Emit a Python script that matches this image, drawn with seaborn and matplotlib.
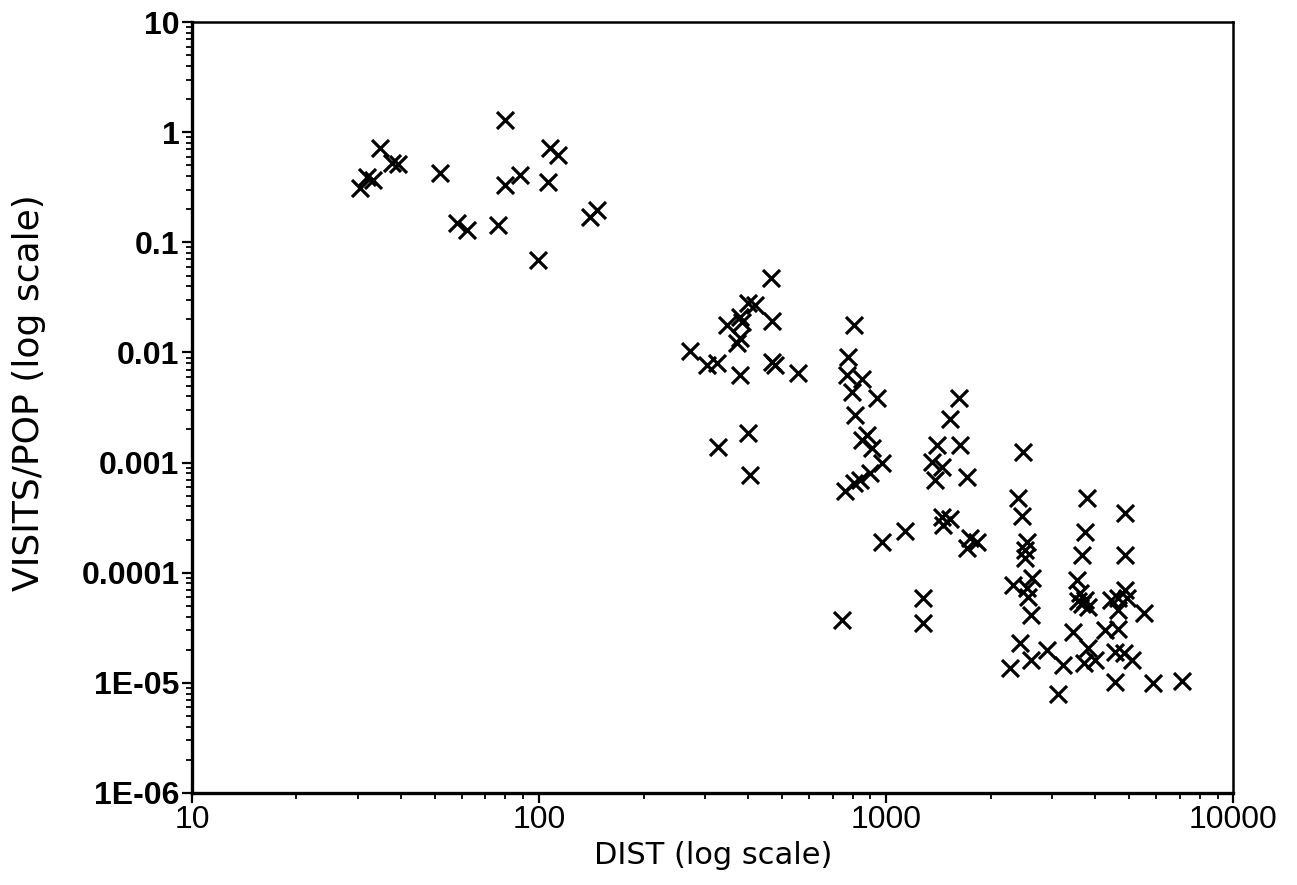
import numpy as np
import pandas as pd
import matplotlib
matplotlib.use("Agg")
import matplotlib.pyplot as plt
from matplotlib.ticker import LogLocator, FixedLocator, FixedFormatter, NullFormatter
import seaborn as sns

# distance (x) and visits per population (y)
dist = [
    30.5, 31.9, 33.3, 34.8, 37.7, 39.3, 51.9, 79.8, 79.8, 88.1, 107.7, 113.5, 106.2,
    58.1, 62.1, 76.2, 99.3, 140, 147,
    466, 400, 419, 469, 379, 384, 348, 379, 372, 272, 326, 305, 379, 469, 478, 557,
    400, 328, 405,
    809, 777, 772, 853, 797, 942, 814, 882, 853, 912, 973, 900, 842, 809, 762,
    973, 1135, 747,
    1279, 1279, 1622, 1527, 1401, 1633, 1358, 1449, 1384, 1711, 1449, 1527, 1459,
    1746, 1828, 1711,
    2484, 2400, 2464, 2549, 2517, 2517, 2637, 2323, 2549, 2560, 2603, 2432, 2603,
    2275, 2911, 3236, 3133,
    3795, 4887, 3743, 3670, 4887, 3548, 3622, 3743, 3670, 3820, 3575, 4887, 4665,
    4945, 4427, 4665, 5509, 3460, 4275, 4665, 3820, 4571, 4831, 5117, 4000, 3700,
    4571, 5875, 7125,
]
visits_pop = [
    0.31, 0.39, 0.37, 0.72, 0.53, 0.52, 0.43, 1.29, 0.33, 0.41, 0.72, 0.62, 0.35,
    0.149, 0.129, 0.143, 0.069, 0.169, 0.196,
    0.047, 0.028, 0.0269, 0.0192, 0.0209, 0.019, 0.0177, 0.0135, 0.0121, 0.0103,
    0.0080, 0.0077, 0.0062, 0.0082, 0.0077, 0.0065,
    0.00185, 0.00138, 0.00077,
    0.0177, 0.0091, 0.0062, 0.0058, 0.00436, 0.00385, 0.0027, 0.00177, 0.0016,
    0.00135, 0.00099, 0.0008, 0.00069, 0.00065, 0.00055,
    0.00019, 0.00024, 3.7e-5,
    5.9e-5, 3.5e-5, 0.00385, 0.00248, 0.00144, 0.00144, 0.00101, 0.00091, 0.00069,
    0.00074, 0.00032, 0.00031, 0.00027, 0.000206, 0.000189, 0.000167,
    0.00124, 0.00048, 0.00033, 0.000189, 0.00016, 0.000135, 8.9e-5, 7.7e-5, 7.2e-5,
    6.0e-5, 4.1e-5, 2.3e-5, 1.6e-5, 1.36e-5, 1.98e-5, 1.45e-5, 8.0e-6,
    0.00048, 0.00035, 0.000233, 0.000144, 0.000144, 8.5e-5, 6.5e-5, 5.7e-5, 5.2e-5,
    4.9e-5, 5.5e-5, 6.9e-5, 5.9e-5, 5.9e-5, 5.6e-5, 4.6e-5, 4.3e-5, 2.9e-5, 3.0e-5,
    3.1e-5, 2.06e-5, 1.9e-5, 1.87e-5, 1.6e-5, 1.6e-5, 1.5e-5, 1.01e-5, 9.9e-6,
    1.05e-5,
]

x_ticks = [10, 100, 1000, 10000]
x_tick_labels = ["10", "100", "1000", "10000"]
y_ticks = [1e-6, 1e-5, 1e-4, 1e-3, 1e-2, 1e-1, 1, 10]
y_tick_labels = ["1E-06", "1E-05", "0.0001", "0.001", "0.01", "0.1", "1", "10"]

df = pd.DataFrame({"DIST": dist, "VISITS_POP": visits_pop})

sns.set_style("ticks")
plt.rcParams["font.family"] = ["Liberation Sans", "DejaVu Sans"]

fig = plt.figure(figsize=(12.97, 8.85), dpi=100)
ax = fig.add_axes([0.148, 0.104, 0.803, 0.871])

sns.scatterplot(data=df, x="DIST", y="VISITS_POP", ax=ax, marker="x",
                color="black", s=150, linewidth=2.3)

ax.set_xscale("log")
ax.set_yscale("log")
ax.set_xlim(10, 10000)
ax.set_ylim(1e-6, 10)

ax.xaxis.set_major_locator(FixedLocator(x_ticks))
ax.xaxis.set_major_formatter(FixedFormatter(x_tick_labels))
ax.yaxis.set_major_locator(FixedLocator(y_ticks))
ax.yaxis.set_major_formatter(FixedFormatter(y_tick_labels))
ax.xaxis.set_minor_locator(LogLocator(base=10, subs=np.arange(2, 10), numticks=100))
ax.yaxis.set_minor_locator(LogLocator(base=10, subs=np.arange(2, 10), numticks=100))
ax.xaxis.set_minor_formatter(NullFormatter())
ax.yaxis.set_minor_formatter(NullFormatter())

ax.tick_params(which="major", direction="out", length=7, width=1.6, colors="black", pad=2)
ax.tick_params(which="minor", direction="out", length=4, width=1.3, colors="black")
for lab in ax.get_yticklabels():
    lab.set_fontsize(23)
    lab.set_fontweight("bold")
for lab in ax.get_xticklabels():
    lab.set_fontsize(23)

for side in ["left", "bottom"]:
    ax.spines[side].set_linewidth(2.4)
for side in ["top", "right"]:
    ax.spines[side].set_linewidth(1.8)
for sp in ax.spines.values():
    sp.set_color("black")

ax.set_xlabel("DIST (log scale)", fontsize=22, color="black",
              family=["DejaVu Sans"], labelpad=4)
ax.set_ylabel("VISITS/POP (log scale)", fontsize=26, color="black",
              family=["DejaVu Sans"])
ax.yaxis.set_label_coords(-0.14, 0.52)
ax.grid(False)

plt.savefig("out.png", dpi=100)
plt.close()
